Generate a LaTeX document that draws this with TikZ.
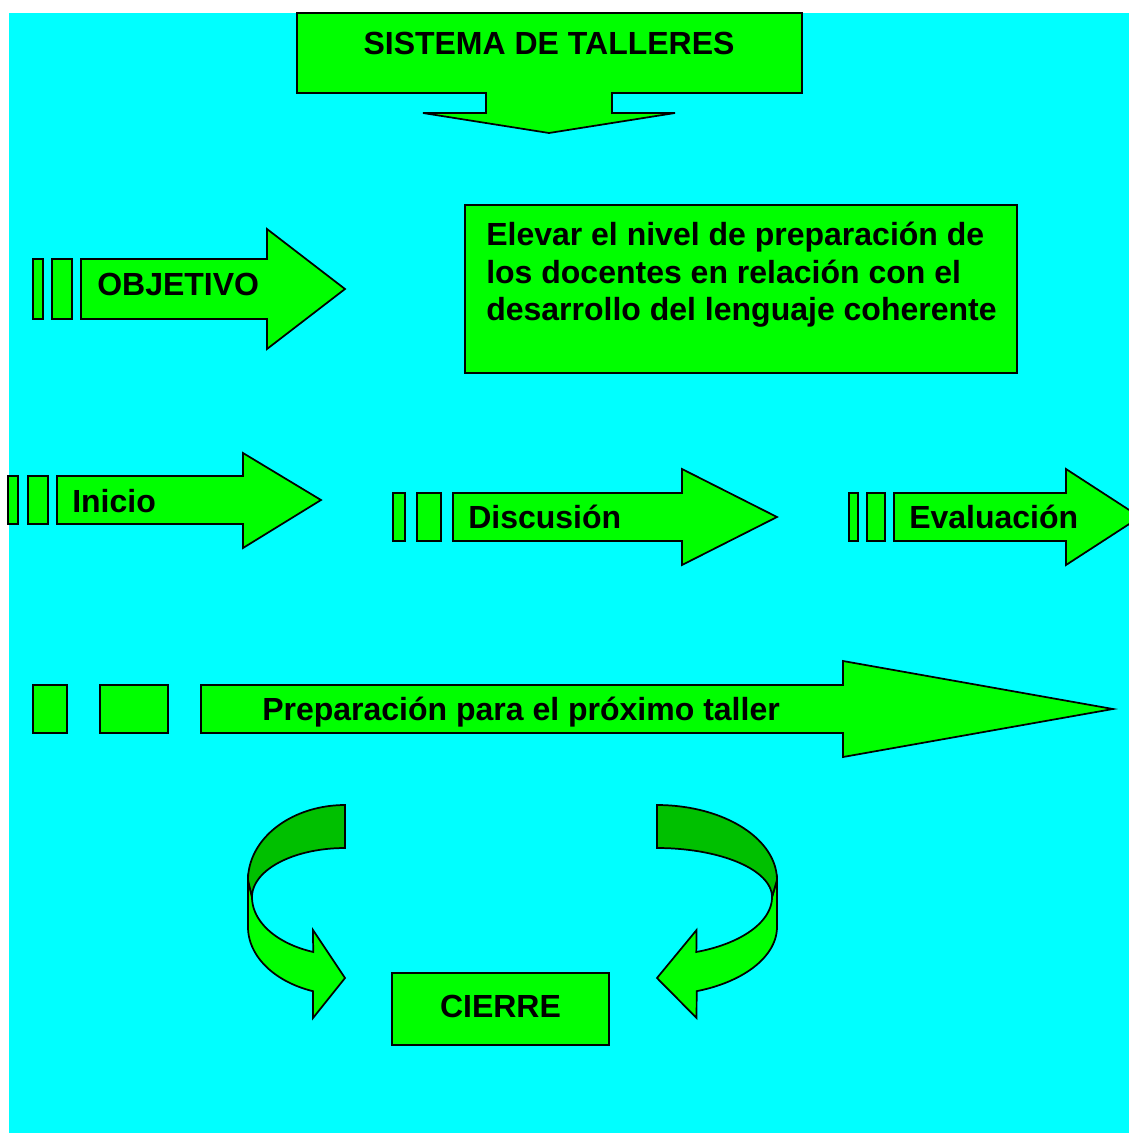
\documentclass[tikz,border=0pt]{standalone}
\usepackage{fontspec}
\setmainfont{Liberation Sans}
\definecolor{lgreen}{HTML}{00FF00}
\definecolor{dgreen}{HTML}{00C000}
\definecolor{bgcyan}{HTML}{00FFFF}
\tikzset{
  shp/.style={draw=black, fill=lgreen, line width=1.3pt, line join=miter},
  dshp/.style={draw=black, fill=dgreen, line width=1.3pt},
  lbl/.style={inner sep=0pt, font=\fontsize{24}{28}\selectfont\bfseries}
}
\begin{document}
\begin{tikzpicture}[x=0.75pt,y=-0.75pt]
\useasboundingbox (0,0) rectangle (1129,1133);
\clip (0,0) rectangle (1129,1133);
\fill[white] (0,0) rectangle (1129,1133);
\fill[bgcyan] (9,13) rectangle (1129,1133);

% title callout
\path[shp] (297,13) -- (802,13) -- (802,93) -- (612,93) -- (612,113) -- (675,113)
  -- (549,133) -- (423,113) -- (486,113) -- (486,93) -- (297,93) -- cycle;
\node[lbl, anchor=base] (title) at (549,54) {SISTEMA DE TALLERES};

% OBJETIVO
\path[shp] (33,259) rectangle (43,319);
\path[shp] (52,259) rectangle (72,319);
\path[shp] (81,259) -- (267,259) -- (267,229) -- (345,289) -- (267,349) -- (267,319) -- (81,319) -- cycle;
\node[lbl, anchor=base west] (objetivo) at (97,295) {OBJETIVO};

% objective box
\path[shp] (465,205) rectangle (1017,373);
\node[lbl, anchor=base west] (obj1) at (486,245.5) {Elevar el nivel de preparación de};
\node[lbl, anchor=base west] (obj2) at (486,283) {los docentes en relación con el};
\node[lbl, anchor=base west] (obj3) at (486,320.5) {desarrollo del lenguaje coherente};

% Inicio
\path[shp] (8,476) rectangle (18,524);
\path[shp] (28,476) rectangle (48,524);
\path[shp] (57,476) -- (243,476) -- (243,453) -- (321,500) -- (243,548) -- (243,524) -- (57,524) -- cycle;
\node[lbl, anchor=base west] (inicio) at (72,512) {Inicio};

% Discusion
\path[shp] (393,493) rectangle (405,541);
\path[shp] (417,493) rectangle (441,541);
\path[shp] (453,493) -- (682,493) -- (682,469) -- (777,517) -- (682,565) -- (682,541) -- (453,541) -- cycle;
\node[lbl, anchor=base west] (discusion) at (468,528) {Discusión};

% Evaluacion
\path[shp] (849,493) rectangle (858,541);
\path[shp] (867,493) rectangle (885,541);
\path[shp] (894,493) -- (1066,493) -- (1066,469) -- (1140,517) -- (1066,565) -- (1066,541) -- (894,541) -- cycle;
\node[lbl, anchor=base west] (evaluacion) at (909,528) {Evaluación};

% Preparacion
\path[shp] (33,685) rectangle (67,733);
\path[shp] (100,685) rectangle (168,733);
\path[shp] (201,685) -- (843,685) -- (843,661) -- (1113,709) -- (843,757) -- (843,733) -- (201,733) -- cycle;
\node[lbl, anchor=base west] (prep) at (262,720) {Preparación para el próximo taller};

% curved arrows
\foreach \sx/\xs in {345/1, 657/-1.237}{
\begin{scope}[shift={(\sx,0)}, xscale=\xs]
  \path[shp] (-97,880) -- (-97,927)
    -- plot[domain=180:109.3, samples=40] ({97*cos(\x)},{927+68*sin(\x)})
    -- (-32,1018) -- (0,978) -- (-32,930)
    -- plot[domain=110:180, samples=40] ({93*cos(\x)},{897+58.5*sin(\x)}) -- cycle;
  \path[dshp] (0,805)
    -- plot[domain=270:180, samples=40] ({97*cos(\x)},{880+75*sin(\x)})
    -- plot[domain=180:270, samples=40] ({93*cos(\x)},{897+49*sin(\x)}) -- cycle;
\end{scope}
}

% CIERRE
\path[shp] (392,973) rectangle (609,1045);
\node[lbl, anchor=base] (cierre) at (500.5,1017) {CIERRE};
\end{tikzpicture}
\end{document}
